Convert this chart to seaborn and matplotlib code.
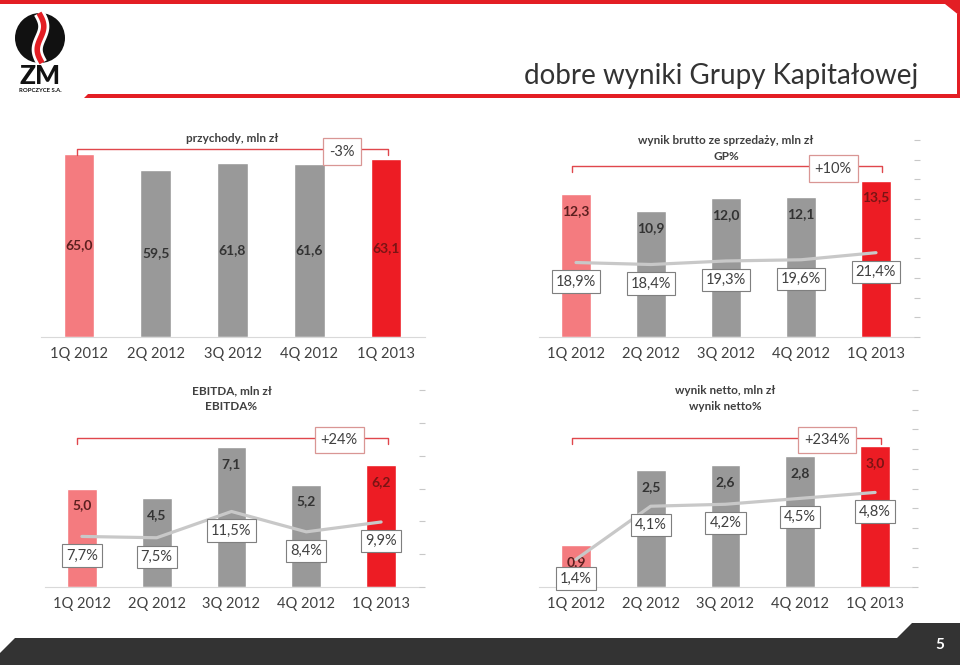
import numpy as np
import pandas as pd
import matplotlib
matplotlib.use('Agg')
import matplotlib.pyplot as plt
import matplotlib.transforms as mtransforms
from matplotlib.patches import Polygon, Ellipse
import seaborn as sns

# data
quarters = ['1Q 2012', '2Q 2012', '3Q 2012', '4Q 2012', '1Q 2013']
revenue = [65.0, 59.5, 61.8, 61.6, 63.1]
gross_profit = [12.3, 10.9, 12.0, 12.1, 13.5]
gp_pct = [18.9, 18.4, 19.3, 19.6, 21.4]
ebitda = [5.0, 4.5, 7.1, 5.2, 6.2]
ebitda_pct = [7.7, 7.5, 11.5, 8.4, 9.9]
net_profit = [0.9, 2.5, 2.6, 2.8, 3.0]
net_pct = [1.4, 4.1, 4.2, 4.5, 4.8]
changes = ['-3%', '+10%', '+24%', '+234%']

sns.set_style('white')
plt.rcParams['font.family'] = ['Lato', 'DejaVu Sans']

bar_colors = ['#F47B7F', '#999999', '#999999', '#999999', '#ED1C24']
label_colors = ['#5C1F1F', '#333333', '#333333', '#333333', '#7A1414']
text_grey = '#404040'
W, H = 960, 665


def fmt(v):
    return f'{v:.1f}'.replace('.', ',')


fig = plt.figure(figsize=(9.6, 6.65), dpi=100)

# page decoration (pixel coordinates)
deco = fig.add_axes([0, 0, 1, 1], zorder=0)
deco.set_xlim(0, W)
deco.set_ylim(H, 0)
deco.axis('off')
red = '#E31E24'
deco.add_patch(Polygon([(0, 0), (960, 0), (960, 16), (945, 4), (0, 4)], color=red, lw=0))
deco.add_patch(Polygon([(957, 14), (960, 14), (960, 98), (957, 98)], color=red, lw=0))
deco.add_patch(Polygon([(84, 98), (88, 94), (960, 94), (960, 98)], color=red, lw=0))
deco.add_patch(Polygon([(0, 665), (0, 653), (15, 638), (897, 638), (912, 623),
                        (960, 623), (960, 665)], color='#333333', lw=0))
deco.text(940, 645, '5', color='white', fontsize=11, fontweight='bold', ha='center', va='center')
deco.text(918, 76, 'dobre wyniki Grupy Kapitałowej', color='#333333', fontsize=20,
          ha='right', va='center')

# logo
deco.add_patch(Ellipse((40, 38), 50, 50, color='#111111', lw=0))
t = np.linspace(0, 1, 60)
sx = 39 + 4 * np.sin(t * 2 * np.pi) + 3 * t
sy = 13 + 50 * t
deco.plot(sx, sy, color='white', lw=8, solid_capstyle='butt')
deco.plot(sx, sy, color=red, lw=4, solid_capstyle='butt')
deco.text(40, 76, 'ZM', fontsize=19, fontweight='black', ha='center', va='center',
          color='#111111')
deco.text(40, 90, 'ROPCZYCE S.A.', fontsize=4.3, fontweight='bold', ha='center', va='center',
          color='#111111')


def panel(rect, values, pct, ytop, pct_top, pct_step, titles, title_y, change,
          change_x, change_y, bracket, center_labels=False):
    ax = fig.add_axes(rect, zorder=2)
    df = pd.DataFrame({'q': quarters, 'v': values})
    sns.barplot(data=df, x='q', y='v', hue='q', palette=bar_colors, width=0.4,
                saturation=1, legend=False, ax=ax)
    ax.set_xlim(-0.5, 4.5)
    ax.set_ylim(0, ytop)
    ax.set_xlabel('')
    ax.set_ylabel('')
    ax.set_yticks([])
    for s in ['top', 'left', 'right']:
        ax.spines[s].set_visible(False)
    ax.spines['bottom'].set_color('#D9D9D9')
    ax.tick_params(axis='x', length=0, pad=7, labelsize=10.5, labelcolor=text_grey)
    ax.patch.set_alpha(0)

    for i, v in enumerate(values):
        if center_labels:
            ax.text(i, v / 2, fmt(v), ha='center', va='center', fontsize=10,
                    fontweight='bold', color=label_colors[i])
        else:
            ax.annotate(fmt(v), (i, v), xytext=(0, -17), textcoords='offset pixels',
                        ha='center', va='center', fontsize=10, fontweight='bold',
                        color=label_colors[i])

    if pct is not None:
        ax2 = ax.twinx()
        sns.lineplot(x=np.arange(len(quarters)), y=pct, color='#C8C8C8', lw=2.3, ax=ax2)
        ax2.set_ylim(0, pct_top)
        ax2.set_yticks(np.arange(0, pct_top + 0.001, pct_step))
        ax2.set_yticklabels([])
        ax2.tick_params(axis='y', length=4, color='#C8C8C8', width=0.8)
        for s in ax2.spines.values():
            s.set_visible(False)
        ax2.set_ylabel('')
        for i, p in enumerate(pct):
            ax2.annotate(fmt(p) + '%', (i, p), xytext=(0, -19), textcoords='offset pixels',
                         ha='center', va='center', fontsize=10.5, color=text_grey,
                         bbox=dict(boxstyle='square,pad=0.28', fc='white', ec='#7F7F7F', lw=0.8))

    blend = mtransforms.blended_transform_factory(ax.transData, fig.transFigure)
    bx0, bx1, by = bracket
    yf = 1 - by / H
    yd = 1 - (by + 6) / H
    ax.plot([bx0, bx0, bx1, bx1], [yd, yf, yf, yd], color='#E0474C', lw=1,
            transform=blend, clip_on=False)
    ax.text(change_x, 1 - change_y / H, change, transform=blend, ha='center', va='center',
            fontsize=10.5, color=text_grey,
            bbox=dict(boxstyle='square,pad=0.42', fc='white', ec='#D99694', lw=0.9))
    for k, tt in enumerate(titles):
        ax.text(2, 1 - (title_y + 16 * k) / H, tt, transform=blend, ha='center',
                va='center', fontsize=8.5, fontweight='bold', color=text_grey)
    return ax


top_b, bot_b, ph = 1 - 337 / H, 1 - 587 / H, 197 / H

panel([40.5 / W, top_b, 384 / W, ph], revenue, None, 70, None, None,
      ['przychody, mln zł'], 139, changes[0], 3.43, 151.5, (-0.03, 4.03, 149),
      center_labels=True)
panel([538.5 / W, top_b, 375 / W, ph], gross_profit, gp_pct, 17, 50, 5,
      ['wynik brutto ze sprzedaży, mln zł', 'GP%'], 140, changes[1], 3.43, 168.5,
      (-0.05, 4.08, 166))
panel([44.5 / W, bot_b, 374 / W, ph], ebitda, ebitda_pct, 10, 30, 5,
      ['EBITDA, mln zł', 'EBITDA%'], 391, changes[2], 3.44, 440, (-0.07, 4.09, 438))
panel([538.5 / W, bot_b, 374 / W, ph], net_profit, net_pct, 4.2, 10, 1,
      ['wynik netto, mln zł', 'wynik netto%'], 391, changes[3], 3.36, 440,
      (-0.05, 4.08, 438))

fig.savefig('out.png', dpi=100)
